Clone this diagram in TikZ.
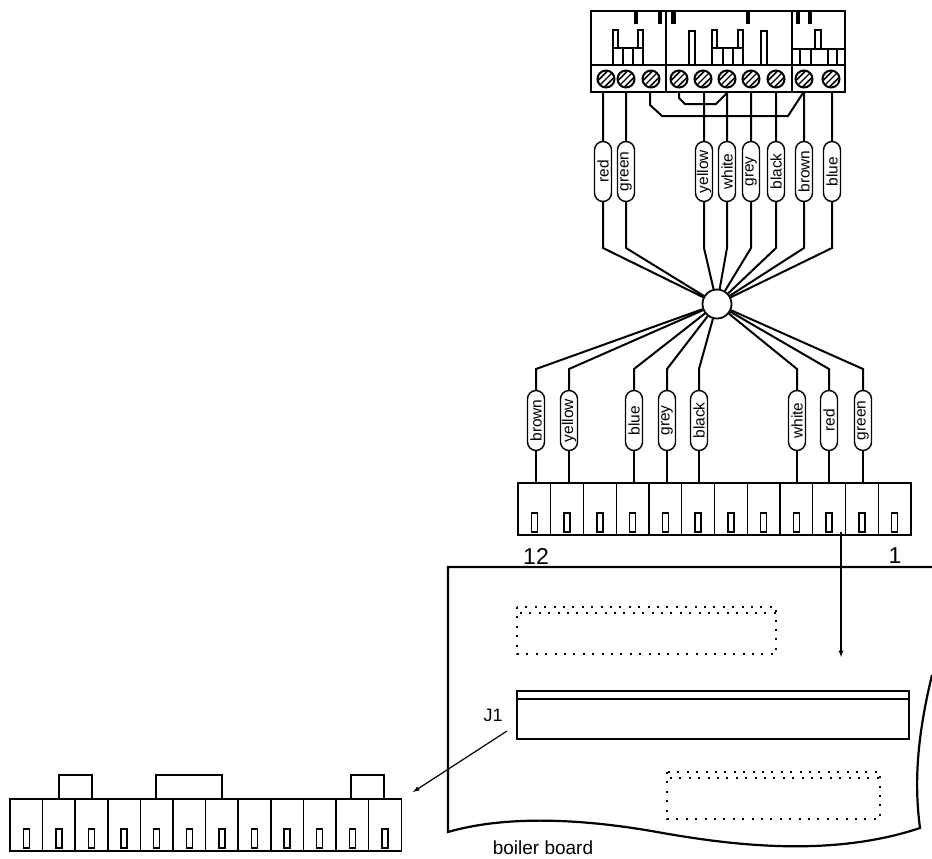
\documentclass[tikz,border=0pt]{standalone}
\usepackage{fontspec}
\setmainfont{Liberation Sans}
\usepackage{tikz}
\usetikzlibrary{arrows, shapes.misc}
\tikzset{
  wire/.style={line width=2pt},
  block/.style={line width=2.2pt},
  thinpart/.style={line width=1.8pt},
  holes/.style={line width=2pt, dash pattern=on 2pt off 7.4pt},
  capsule/.style={draw,shape=rounded rectangle,rotate=90,line width=1.4pt,fill=white,minimum width=60pt,minimum height=17pt,inner sep=0pt,font=\fontsize{15.5}{15.5}\selectfont},
  cell/.style={draw,shape=rectangle,line width=1.4pt,minimum width=32.7pt,minimum height=52pt,inner sep=0pt,outer sep=0pt,
    path picture={\draw [line width=1.3pt] (path picture bounding box.center) ++(-3,4) rectangle ++(6,19);}},
  screw/.style={draw,shape=circle,line width=2pt,minimum size=17pt,inner sep=0pt,
    path picture={\draw [line width=1.7pt] (path picture bounding box.center) ++(-9,2.5) -- ++(12,-12);
      \draw [line width=1.7pt] (path picture bounding box.center) ++(-2.5,9) -- ++(12,-12);
      \draw [line width=1.2pt] (path picture bounding box.center) ++(-6,6) -- ++(12,-12);}},
}
\begin{document}
\begin{tikzpicture}[x=1pt,y=-1pt]
\useasboundingbox (0,0) rectangle (932,859);
% terminal block
\draw [block] (591,11) rectangle (845,92);
\draw [block] (591,65) -- (845,65);
\draw [block] (666,11) -- (666,92);
\draw [block] (792,11) -- (792,92);
\fill (634,11) rectangle (638,24);
\fill (658,11) rectangle (662,24);
\fill (671,11) rectangle (676,24);
\fill (746,11) rectangle (750,24);
\fill (796,11) rectangle (800,24);
\fill (808,11) rectangle (812,24);
% relays left
\draw [thinpart] (613,48) -- (613,30) -- (618,30) -- (618,48);
\draw [thinpart] (638,48) -- (638,30) -- (643,30) -- (643,48);
\draw [block] (613,48) rectangle (643,65);
\draw [thinpart] (623,48) -- (623,65);
\draw [thinpart] (633,48) -- (633,65);
% relays middle
\draw [thinpart] (689,65) -- (689,31) -- (695,31) -- (695,65);
\draw [thinpart] (712,48) -- (712,30) -- (717,30) -- (717,48);
\draw [thinpart] (738,48) -- (738,30) -- (743,30) -- (743,48);
\draw [block] (712,48) rectangle (743,65);
\draw [thinpart] (723,48) -- (723,65);
\draw [thinpart] (733,48) -- (733,65);
\draw [thinpart] (761,65) -- (761,31) -- (767,31) -- (767,65);
% relays right
\draw [thinpart] (815,48) -- (815,30) -- (821,30) -- (821,48);
\draw [thinpart] (792,49) -- (845,49);
\draw [thinpart] (800,49) -- (800,65);
\draw [thinpart] (811,49) -- (811,65);
\draw [thinpart] (828,49) -- (828,65);
\draw [thinpart] (837,49) -- (837,65);
% screws
\node [screw] (screwa) at (606,79) {};
\node [screw] (screwb) at (626,79) {};
\node [screw] (screwc) at (651,79) {};
\node [screw] (screwd) at (679,79) {};
\node [screw] (screwe) at (703,79) {};
\node [screw] (screwf) at (727,79) {};
\node [screw] (screwg) at (751,79) {};
\node [screw] (screwh) at (776,79) {};
\node [screw] (screwi) at (804,79) {};
\node [screw] (screwj) at (831,79) {};
% links under the block
\coordinate (linka) at (650,93);
\coordinate (linkb) at (803,93);
\coordinate (linkc) at (679,93);
\coordinate (linkd) at (727,93);
\draw [wire] (linka) -- (650,105) -- (662,116) -- (788,116) -- (linkb);
\draw [wire] (linkc) -- (679,98) -- (685,104) -- (716,104) -- (linkd);
% upper labels
\node [capsule] (redup) at (603,171.5) {red};
\node [capsule] (greenup) at (626,171.5) {green};
\node [capsule] (yellowup) at (704,171.5) {yellow};
\node [capsule] (whiteup) at (727,171.5) {white};
\node [capsule] (greyup) at (751,171.5) {grey};
\node [capsule] (blackup) at (776,171.5) {black};
\node [capsule] (brownup) at (804,171.5) {brown};
\node [capsule] (blueup) at (832,171.5) {blue};
% hub
\node [draw,shape=circle,line width=1.8pt,minimum size=29pt,inner sep=0pt] (hub) at (717,304) {};
% upper wires
\draw [wire] (603,92) -- (redup);
\draw [wire] (626,92) -- (greenup);
\draw [wire] (704,92) -- (yellowup);
\draw [wire] (727,92) -- (whiteup);
\draw [wire] (751,92) -- (greyup);
\draw [wire] (776,92) -- (blackup);
\draw [wire] (804,92) -- (brownup);
\draw [wire] (832,92) -- (blueup);
\draw [wire] (redup) -- (603,248) -- (hub);
\draw [wire] (greenup) -- (626,248) -- (hub);
\draw [wire] (yellowup) -- (704,248) -- (hub);
\draw [wire] (whiteup) -- (727,248) -- (hub);
\draw [wire] (greyup) -- (751,248) -- (hub);
\draw [wire] (blackup) -- (776,248) -- (hub);
\draw [wire] (brownup) -- (804,248) -- (hub);
\draw [wire] (blueup) -- (832,248) -- (hub);
% plug
\node [cell] (plugl) at (534.4,509) {};
\node [cell] (plugk) at (567.1,509) {};
\node [cell] (plugj) at (599.9,509) {};
\node [cell] (plugi) at (632.6,509) {};
\node [cell] (plugh) at (665.4,509) {};
\node [cell] (plugg) at (698.1,509) {};
\node [cell] (plugf) at (730.9,509) {};
\node [cell] (pluge) at (763.6,509) {};
\node [cell] (plugd) at (796.4,509) {};
\node [cell] (plugc) at (829.1,509) {};
\node [cell] (plugb) at (861.9,509) {};
\node [cell] (pluga) at (894.6,509) {};
% lower labels
\node [capsule] (brownlow) at (536,420.5) {brown};
\node [capsule] (yellowlow) at (569,420.5) {yellow};
\node [capsule] (bluelow) at (634,420.5) {blue};
\node [capsule] (greylow) at (667,420.5) {grey};
\node [capsule] (blacklow) at (699,420.5) {black};
\node [capsule] (whitelow) at (797,420.5) {white};
\node [capsule] (redlow) at (829,420.5) {red};
\node [capsule] (greenlow) at (863,420.5) {green};
% lower wires
\draw [wire] (hub) -- (536,369) -- (brownlow);
\draw [wire] (hub) -- (569,369) -- (yellowlow);
\draw [wire] (hub) -- (634,369) -- (bluelow);
\draw [wire] (hub) -- (667,369) -- (greylow);
\draw [wire] (hub) -- (699,369) -- (blacklow);
\draw [wire] (hub) -- (797,369) -- (whitelow);
\draw [wire] (hub) -- (829,369) -- (redlow);
\draw [wire] (hub) -- (863,369) -- (greenlow);
\draw [wire] (brownlow) -- (brownlow |- plugl.north);
\draw [wire] (yellowlow) -- (yellowlow |- plugk.north);
\draw [wire] (bluelow) -- (bluelow |- plugi.north);
\draw [wire] (greylow) -- (greylow |- plugh.north);
\draw [wire] (blacklow) -- (blacklow |- plugg.north);
\draw [wire] (whitelow) -- (whitelow |- plugd.north);
\draw [wire] (redlow) -- (redlow |- plugc.north);
\draw [wire] (greenlow) -- (greenlow |- plugb.north);
\node [font=\fontsize{23}{23}\selectfont] (twelve) at (536,556) {12};
\node [font=\fontsize{23}{23}\selectfont] (one) at (895,556) {1};
% board
\draw [block] (932,567) -- (448,567) -- (448,832) .. controls (510,814) and (590,820) .. (657,832) .. controls (730,845) and (830,858) .. (920,828) .. controls (915,790) and (915,745) .. (932,675);
\draw [holes] (517,607) rectangle (776,654);
\draw [holes] (520,613) -- (776,613);
\draw [holes] (667,772) rectangle (880,819);
\draw [holes] (670,778) -- (880,778);
\draw [block] (517,691) rectangle (909,739);
\draw [block] (517,699) -- (909,699);
\node [font=\fontsize{18}{18}\selectfont] (jone) at (493,715) {J1};
\node [font=\fontsize{19}{19}\selectfont] (boiler) at (543,848) {boiler board};
\coordinate (arrowa) at (841,532);
\coordinate (arrowb) at (841,657);
\draw [-latex,line width=1.2pt] (arrowa) -- (arrowb);
\coordinate (arrowc) at (507,731);
\coordinate (arrowd) at (413,792);
\draw [-latex,line width=1.2pt] (arrowc) -- (arrowd);
% loose socket
\node [cell] (socka) at (26.3,825) {};
\node [cell] (sockb) at (58.9,825) {};
\node [cell] (sockc) at (91.5,825) {};
\node [cell] (sockd) at (124.1,825) {};
\node [cell] (socke) at (156.7,825) {};
\node [cell] (sockf) at (189.3,825) {};
\node [cell] (sockg) at (221.9,825) {};
\node [cell] (sockh) at (254.5,825) {};
\node [cell] (socki) at (287.1,825) {};
\node [cell] (sockj) at (319.7,825) {};
\node [cell] (sockk) at (352.3,825) {};
\node [cell] (sockl) at (384.9,825) {};
\draw [line width=1.4pt] (59,799) -- (59,775) -- (92,775) -- (92,799);
\draw [line width=1.4pt] (156,799) -- (156,775) -- (222,775) -- (222,799);
\draw [line width=1.4pt] (351,799) -- (351,775) -- (384,775) -- (384,799);
\end{tikzpicture}
\end{document}
